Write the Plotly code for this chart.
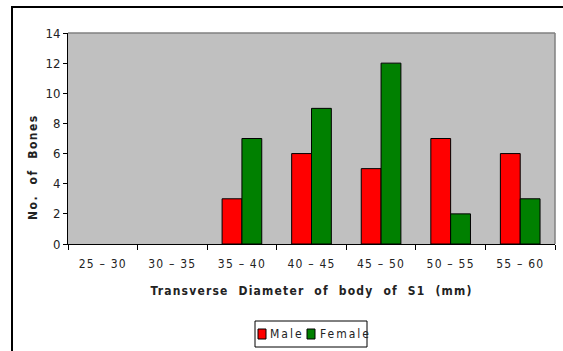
import plotly.graph_objects as go

# Bone counts by transverse diameter class of the S1 body
ranges = ["25 – 30", "30 – 35", "35 – 40", "40 – 45", "45 – 50", "50 – 55", "55 – 60"]
male = [0, 0, 3, 6, 5, 7, 6]
female = [0, 0, 7, 9, 12, 2, 3]
y_ticks = [0, 2, 4, 6, 8, 10, 12, 14]
series_names = ["Male", "Female"]
series_colors = ["#ff0000", "#008000"]

FONT = "DejaVu Sans Condensed, Liberation Sans Narrow, Arial Narrow, sans-serif"
TXT = "#222222"

W, H = 563, 351
L, R, T, B = 68, 8, 33, 107
PW, PH = W - L - R, H - T - B


def px(x):
    return (x - L) / PW


def py(y):
    return (H - B - y) / PH


def spaced(s, sp):
    return '<span style="letter-spacing:%spx">%s</span>' % (sp, s)


fig = go.Figure()
for vals, name, col in zip([male, female], series_names, series_colors):
    fig.add_trace(go.Bar(
        x=ranges, y=vals, name=name,
        marker=dict(color=col, line=dict(color="#000000",
                                         width=[1 if v else 0 for v in vals])),
    ))

fig.update_layout(
    width=W, height=H,
    margin=dict(l=L, r=R, t=T, b=B, autoexpand=False),
    paper_bgcolor="#ffffff",
    plot_bgcolor="#c0c0c0",
    barmode="group",
    bargap=0.43,
    bargroupgap=0,
    font=dict(family=FONT, size=12, color=TXT),
    showlegend=False,
    xaxis=dict(
        type="category",
        tickson="boundaries",
        tickvals=ranges,
        ticktext=[spaced(r, 1.2) for r in ranges],
        ticks="outside", ticklen=5, tickcolor="#000000", tickwidth=1,
        ticklabelstandoff=9,
        showline=True, linecolor="#000000", linewidth=1,
        showgrid=False, zeroline=False,
        tickfont=dict(family=FONT, size=12, color=TXT),
        title=dict(
            text=spaced("Transverse  Diameter  of  body  of  S1  (mm)", 1.2),
            font=dict(family=FONT, size=12, color=TXT, weight="bold"),
            standoff=16,
        ),
    ),
    yaxis=dict(
        range=[0, 14],
        tickvals=y_ticks,
        ticks="outside", ticklen=4, tickcolor="#000000", tickwidth=1,
        showline=True, linecolor="#000000", linewidth=1,
        showgrid=False, zeroline=False,
        tickfont=dict(family=FONT, size=13, color=TXT),
    ),
)

# y-axis title, set a little below the middle of the axis
fig.add_annotation(xref="paper", yref="paper", x=px(33), y=py(167),
                   xanchor="center", yanchor="middle", showarrow=False,
                   textangle=-90, text=spaced("No.  of  Bones", 1.5),
                   font=dict(family=FONT, size=12, color=TXT, weight="bold"))

# grey border on the top and right of the plotting area
fig.add_shape(type="line", xref="paper", yref="paper", x0=0, x1=1, y0=1, y1=1,
              line=dict(color="#808080", width=1.5))
fig.add_shape(type="line", xref="paper", yref="paper", x0=1, x1=1, y0=0, y1=1,
              line=dict(color="#808080", width=1.5))

# outer chart frame (left and top edges visible)
fig.add_shape(type="rect", xref="paper", yref="paper",
              x0=px(12), x1=px(640), y0=py(420), y1=py(7),
              line=dict(color="#000000", width=2), layer="below")

# legend box with two keyed entries
fig.add_shape(type="rect", xref="paper", yref="paper",
              x0=px(255), x1=px(367), y0=py(347), y1=py(321),
              line=dict(color="#000000", width=1), fillcolor="#ffffff")
key_x = [258, 307]
label_x = [268, 318]
for name, col, kx, lx in zip(series_names, series_colors, key_x, label_x):
    fig.add_shape(type="rect", xref="paper", yref="paper",
                  x0=px(kx), x1=px(kx + 8), y0=py(339), y1=py(329),
                  line=dict(color="#000000", width=1), fillcolor=col)
    fig.add_annotation(xref="paper", yref="paper", x=px(lx), y=py(334),
                       xanchor="left", yanchor="middle", showarrow=False,
                       text=spaced(name, 2),
                       font=dict(family=FONT, size=12, color=TXT))

fig.write_html("out.html")
